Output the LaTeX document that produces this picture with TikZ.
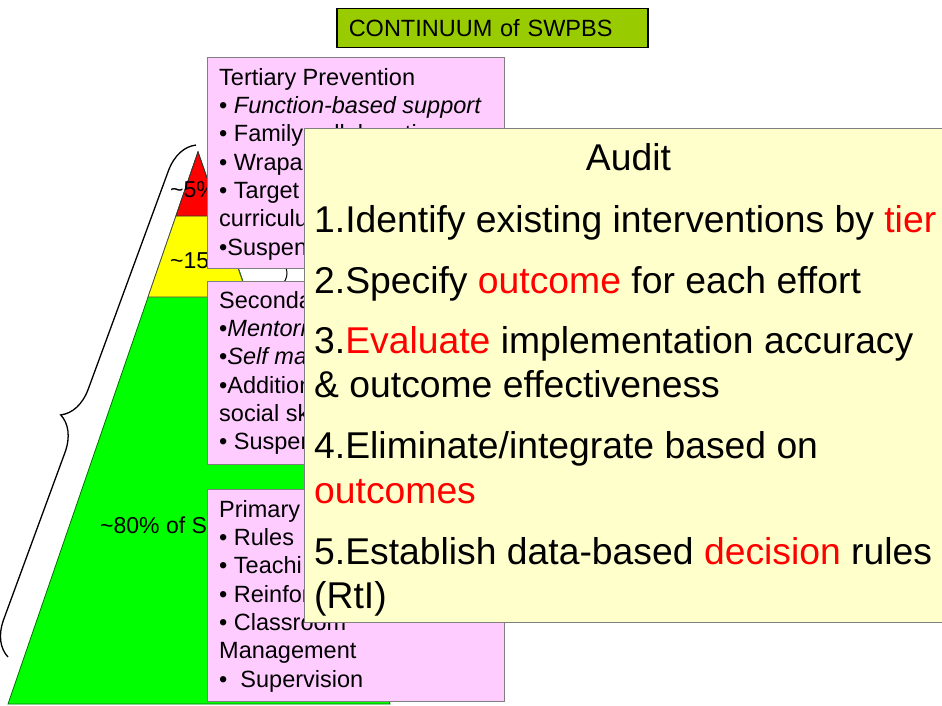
\documentclass[tikz,border=0pt]{standalone}
\usepackage{fontspec}
\setmainfont{Liberation Sans}
\usetikzlibrary{decorations.pathreplacing}
\definecolor{pinkfill}{HTML}{FFCCFF}
\definecolor{auditfill}{HTML}{FFFFCC}
\definecolor{titlefill}{HTML}{99CC00}
\definecolor{boxline}{HTML}{7F7F7F}
\definecolor{pyrgreen}{HTML}{00FF00}
\definecolor{pyryellow}{HTML}{FFFF00}
\definecolor{pyrred}{HTML}{FF0000}
\definecolor{hl}{HTML}{FF0000}
\begin{document}
\begin{tikzpicture}[x=1pt,y=-1pt,
  tierbox/.style={draw=boxline, line width=1.3pt, fill=pinkfill, anchor=north west, inner sep=0pt, minimum width=297pt},
  tiertext/.style={anchor=north west, inner sep=0pt, align=left, font=\fontsize{23.5}{28.3}\selectfont},
  pyrlabel/.style={anchor=base west, inner sep=0pt, font=\fontsize{23}{27}\selectfont},
  auditfont/.style={font=\fontsize{37.3}{44.5}\selectfont},
  band/.style={line width=0.8pt},
]
\useasboundingbox (0,0) rectangle (942,706);
\fill[white] (0,0) rectangle (942,706);

% pyramid
\coordinate (apex) at (198,152);
\filldraw[band, fill=pyrgreen, draw=green!45!black] (apex) -- (8,704) -- (390,704) -- cycle;
\filldraw[band, fill=pyryellow, draw=black!70] (apex) -- (148,297) -- (248,297) -- cycle;
\filldraw[band, fill=pyrred, draw=black!80] (apex) -- (176,216) -- (220,216) -- cycle;

% brace
\coordinate (braceB) at (8,657);
\coordinate (braceT) at (196,145);
\draw[line width=1.3pt, decorate, decoration={brace, amplitude=34pt, aspect=0.45}] (braceB) -- (braceT);

% small arc between boxes
\draw[line width=1pt] (281,262) .. controls (289,268) and (289,278) .. (281,286);

% pyramid labels
\node[pyrlabel] (lab5) at (170,197) {\textasciitilde5\%};
\node[pyrlabel] (lab15) at (170,268) {\textasciitilde15};
\node[pyrlabel] (lab80) at (100,533) {\textasciitilde80\% of S};

% title
\node[draw=black, line width=1.5pt, fill=titlefill, anchor=north west, minimum width=311pt, minimum height=39pt, text width=287pt, align=left, inner xsep=12pt, inner ysep=0pt, font=\fontsize{23.5}{28}\selectfont] (title) at (336,8) {CONTINUUM of SWPBS};

% tier boxes
\node[tierbox, minimum height=211pt] (tert) at (207,57) {};
\node[tiertext] (terttxt) at (219,65.2) {\strut Tertiary Prevention\\ • \textit{Function-based support}\\ • Family collaboration\\ • Wrapa\\ • Target\\ curriculu\\ •Suspen};

\node[tierbox, minimum height=183pt] (sec) at (207,281) {};
\node[tiertext] (sectxt) at (219,288.2) {\strut Seconda\\ •\textit{Mentori}\\ •\textit{Self ma}\\ •Addition\\ social sk\\ • Suspen};

\node[tierbox, minimum height=212pt] (prim) at (207,489) {};
\node[tiertext] (primtxt) at (219,497.2) {\strut Primary\\ • Rules\\ • Teachi\\ • Reinfor\\ • Classroom\\ Management\\ •\ \ Supervision};

% audit box
\node[draw=boxline, line width=1.3pt, fill=auditfill, anchor=north west, inner sep=0pt, minimum width=649pt, minimum height=494pt] (audit) at (304,128) {};
\node[auditfont, anchor=base, inner sep=0pt] (audittitle) at (628.5,171) {Audit};
\node[auditfont, anchor=north west, inner sep=0pt, align=left] (auditlist) at (314,200.85) {\strut 1.Identify existing interventions by \textcolor{hl}{tier}\\[16.5pt]
2.Specify \textcolor{hl}{outcome} for each effort\\[15.5pt]
3.\textcolor{hl}{Evaluate} implementation accuracy\\
\& outcome effectiveness\\[16.5pt]
4.Eliminate/integrate based on\\
\textcolor{hl}{outcomes}\\[16.5pt]
5.Establish data-based \textcolor{hl}{decision} rules\\
(RtI)};
\end{tikzpicture}
\end{document}
